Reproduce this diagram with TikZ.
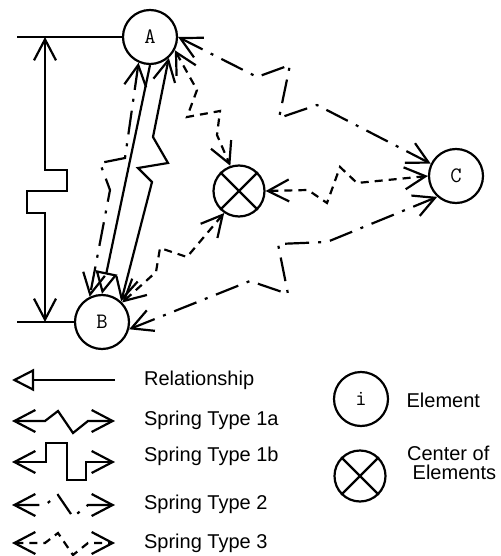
\documentclass[tikz,border=0pt]{standalone}
\usepackage{fontspec}
\setmainfont{Liberation Sans}
\usetikzlibrary{arrows.meta}
\begin{document}
\begin{tikzpicture}[x=1bp,y=-1bp,
  line width=2.2bp,
  element/.style={circle,draw,minimum size=54bp,inner sep=0pt,
    font=\ttfamily\fontsize{22bp}{22bp}\selectfont},
  centre/.style={circle,draw,minimum size=51bp,inner sep=0pt},
  spring/.style={arrows={Straight Barb[length=21bp,width=22bp]-Straight Barb[length=21bp,width=22bp]}},
  sp1/.style={spring},
  sp2/.style={spring,dash pattern=on 24bp off 9bp on 3bp off 9bp},
  sp3/.style={spring,dash pattern=on 8bp off 6bp},
  rel/.style={-{Triangle[open,length=22bp,width=22bp]}},
  legend/.style={anchor=base west,inner sep=0pt,align=left,
    font=\fontsize{20bp}{19bp}\selectfont}
]
\useasboundingbox (0,0) rectangle (501,556);

% elements and their centre
\node[element] (A) at (150,37) {A};
\node[element] (B) at (102,322) {B};
\node[element] (C) at (456,176) {C};
\node[centre] (X) at (239,191) {};
\draw (X.45) -- (X.225) (X.135) -- (X.315);

% distance A--B with a type 1b spring
\coordinate (dt) at (17,37);
\coordinate (db) at (17,322);
\coordinate (d1) at (45,37);
\coordinate (d2) at (45,322);
\draw (dt) -- (A.west);
\draw (db) -- (B.west);
\draw[sp1] (d1) -- (45,170) -- (67,170) -- (67,191) -- (27,191) -- (27,213) -- (45,213) -- (d2);

% relationship and springs
\draw[rel] (A.south) -- (B.north);
\draw[sp1] (A.-48) -- (153,137) -- (168,163) -- (138,168) -- (152,182) -- (B.47);
\draw[sp2] (A.246) -- (125,158) -- (100,163) -- (110,190) -- (B.116);
\draw[sp2] (A.east) -- (257,77) -- (290,65) -- (279,118) -- (317,105) -- (C.154);
\draw[sp2] (B.-15) -- (250,281) -- (288,294) -- (278,244) -- (327,242) -- (C.228);
\draw[sp3] (A.-28) -- (197,90) -- (187,117) -- (220,111) -- (217,135) -- (X.109);
\draw[sp3] (C.west) -- (357,183) -- (340,167) -- (327,203) -- (308,190) -- (X.east);
\draw[sp3] (X.236) -- (187,257) -- (160,248) -- (156,272) -- (B.44);

% legend: connector samples
\coordinate (r1) at (115,380); \coordinate (r0) at (12,380);
\draw[rel] (r1) -- (r0);
\coordinate (a0) at (12,421); \coordinate (a1) at (115,421);
\draw[sp1] (a0) -- (45,421) -- (58,411) -- (73,433) -- (88,421) -- (a1);
\coordinate (b0) at (12,462); \coordinate (b1) at (115,462);
\draw[sp1] (b0) -- (46,462) -- (46,443) -- (67,443) -- (67,480) -- (86,480) -- (86,462) -- (b1);
\coordinate (c0) at (12,505); \coordinate (c1) at (115,505);
\draw[sp2] (c0) -- (45,505) -- (58,495) -- (73,517) -- (88,505) -- (c1);
\coordinate (e0) at (12,543); \coordinate (e1) at (115,543);
\draw[sp3] (e0) -- (45,543) -- (58,533) -- (73,555) -- (88,543) -- (e1);

\node[legend] (tr) at (143,385) {Relationship};
\node[legend] (ta) at (143,425) {Spring Type 1a};
\node[legend] (tb) at (143,461.5) {Spring Type 1b};
\node[legend] (tc) at (143,509) {Spring Type 2};
\node[legend] (te) at (143,548) {Spring Type 3};

% legend: symbols
\node[element] (Ei) at (361,399) {i};
\node[centre] (Mx) at (360,476) {};
\draw (Mx.45) -- (Mx.225) (Mx.135) -- (Mx.315);
\node[legend] (tel) at (405.5,407) {Element};
\node[legend] (tce) at (406,479) {Center of\\\hspace*{0.28em}Elements};
\end{tikzpicture}
\end{document}
